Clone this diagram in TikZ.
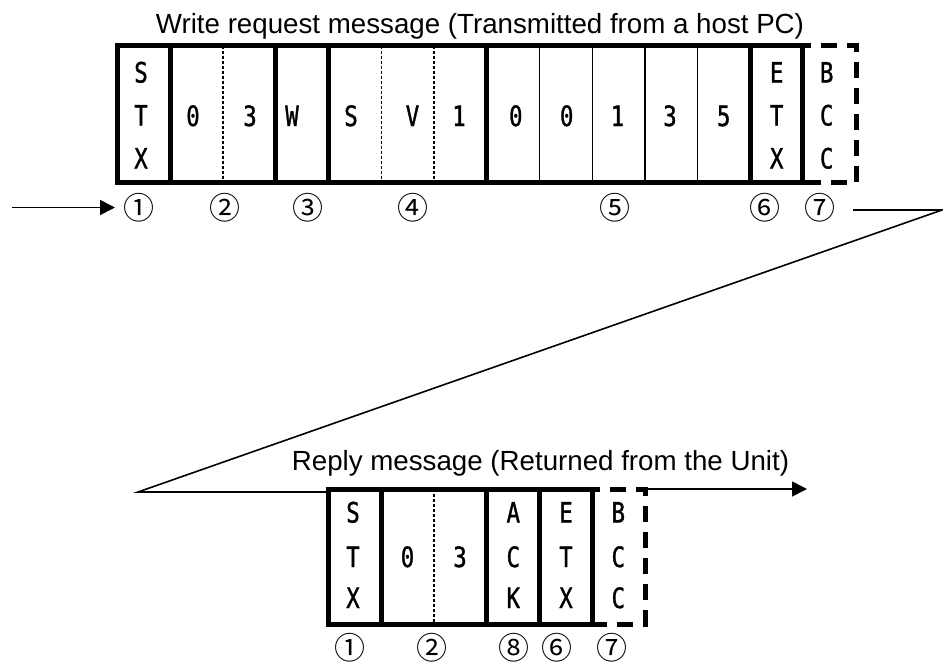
\documentclass[tikz,border=0pt]{standalone}
\usepackage{fontspec}
\setmainfont{Liberation Sans}
\newfontfamily\cellfont[FakeStretch=0.8,FakeBold=1.2]{DejaVu Sans Mono}
\newfontfamily\circfont{Noto Sans CJK JP}
\usetikzlibrary{arrows.meta}
\begin{document}
\begin{tikzpicture}[x=1pt,y=-1pt,
  frame/.style={line width=5pt,line join=miter},
  thinsep/.style={line width=1.3pt},
  dotsep/.style={line width=1.3pt,dash pattern=on 3pt off 2pt},
  bccbox/.style={line width=5pt,dash pattern=on 16pt off 10pt,dash phase=8pt},
  conn/.style={line width=1.6pt},
  arr/.style={line width=1.6pt,-{Triangle[length=15pt,width=15pt]}},
  ch/.style={font=\cellfont\fontsize{28}{28}\selectfont,inner sep=0pt,anchor=base},
  ttl/.style={font=\fontsize{27.7}{28}\selectfont,inner sep=0pt,anchor=base},
  num/.style={font=\circfont\fontsize{31}{31}\selectfont,inner sep=0pt}]
\useasboundingbox (0,0) rectangle (943,664);
% ---------- top message ----------
\node[ttl] (ttop) at (480,33) {Write request message (Transmitted from a host PC)};
\draw[frame] (117.5,45.5) rectangle (802.5,182.5);
\foreach \x in {170.25,275.75,328.5,486.75,750.5}
  \draw[frame] (\x,45.5) -- (\x,182.5);
\foreach \x in {539.5,592.25,645,697.75}
  \draw[thinsep] (\x,45.5) -- (\x,182.5);
\foreach \x in {223,381.25,434}
  \draw[dotsep] (\x,45.5) -- (\x,182.5);
\draw[bccbox] (802.5,45.5) -- (856,45.5) -- (856,182.5) -- (802.5,182.5);
% texts
\node[ch] (t1a) at (141,82.5) {S};
\node[ch] (t1b) at (141,125.5) {T};
\node[ch] (t1c) at (141,168.5) {X};
\node[ch] (t2a) at (193,126) {0};
\node[ch] (t2b) at (250,126) {3};
\node[ch] (t3) at (292,126) {W};
\node[ch] (t4a) at (351,126) {S};
\node[ch] (t4b) at (412.5,126) {V};
\node[ch] (t4c) at (459,126) {1};
\node[ch] (t5a) at (515.8,126) {0};
\node[ch] (t5b) at (566.7,126) {0};
\node[ch] (t5c) at (617.5,126) {1};
\node[ch] (t5d) at (670,126) {3};
\node[ch] (t5e) at (723.7,126) {5};
\node[ch] (t6a) at (776.7,82.5) {E};
\node[ch] (t6b) at (776.7,125.5) {T};
\node[ch] (t6c) at (776.7,168.5) {X};
\node[ch] (t7a) at (826.7,82.5) {B};
\node[ch] (t7b) at (826.7,125.5) {C};
\node[ch] (t7c) at (826.7,168.5) {C};
% circled numbers
\node[num] (n1) at (138.5,208) {①};
\node[num] (n2) at (225,208) {②};
\node[num] (n3) at (308,208) {③};
\node[num] (n4) at (412.5,208) {④};
\node[num] (n5) at (615,208) {⑤};
\node[num] (n6) at (765,208) {⑥};
\node[num] (n7) at (820,208) {⑦};
% ---------- connectors ----------
\coordinate (inS) at (12,207.5);
\coordinate (inE) at (115,207.5);
\draw[arr] (inS) -- (inE);
\coordinate (tA) at (853,210);
\coordinate (tB) at (942,210);
\coordinate (apex) at (138,492);
\coordinate (bTL) at (328.5,492);
\draw[conn,line join=miter] (tA) -- (tB) -- (apex) -- (bTL);
\coordinate (oS) at (645,489);
\coordinate (oE) at (807,489);
\draw[arr] (oS) -- (oE);
% ---------- reply message ----------
\node[ttl] (tbot) at (540.5,470) {Reply message (Returned from the Unit)};
\draw[frame] (328.5,489) rectangle (592.25,624);
\foreach \x in {381.25,486.75,539.5}
  \draw[frame] (\x,489) -- (\x,624);
\draw[dotsep] (434,489) -- (434,624);
\draw[bccbox] (592.25,489) -- (645,489) -- (645,624) -- (592.25,624);
\node[ch] (b1a) at (353,522.5) {S};
\node[ch] (b1b) at (353,567) {T};
\node[ch] (b1c) at (353,608) {X};
\node[ch] (b2a) at (407.5,567) {0};
\node[ch] (b2b) at (460,567) {3};
\node[ch] (b8a) at (513.3,522.5) {A};
\node[ch] (b8b) at (513.3,567) {C};
\node[ch] (b8c) at (513.3,608) {K};
\node[ch] (b6a) at (566,522.5) {E};
\node[ch] (b6b) at (566,567) {T};
\node[ch] (b6c) at (566,608) {X};
\node[ch] (b7a) at (618.3,522.5) {B};
\node[ch] (b7b) at (618.3,567) {C};
\node[ch] (b7c) at (618.3,608) {C};
\node[num] (m1) at (350,648) {①};
\node[num] (m2) at (432,648) {②};
\node[num] (m8) at (513.5,648) {⑧};
\node[num] (m6) at (556.7,648) {⑥};
\node[num] (m7) at (612,648) {⑦};
\end{tikzpicture}
\end{document}
